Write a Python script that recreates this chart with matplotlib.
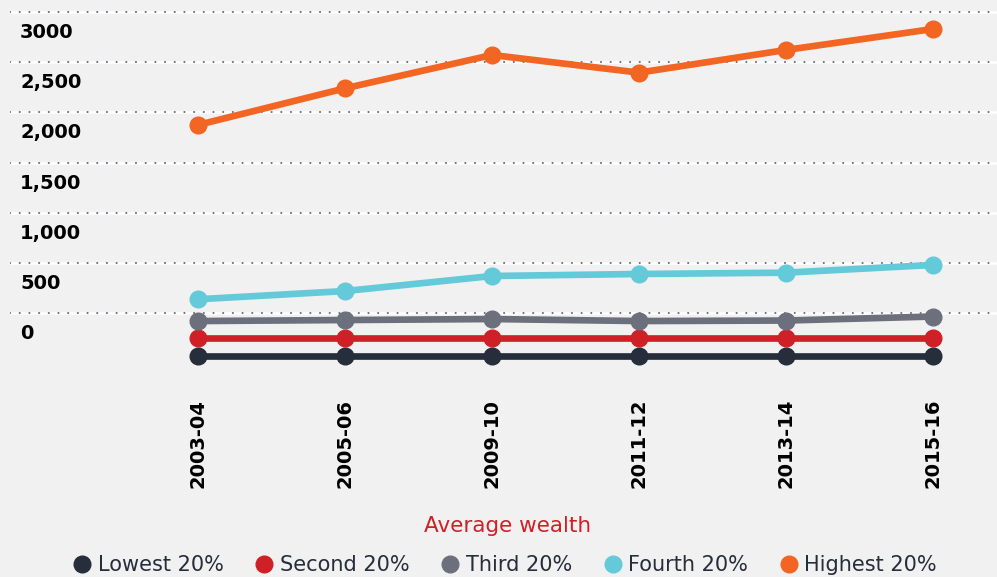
import matplotlib
matplotlib.use("Agg")
import matplotlib.pyplot as plt
import matplotlib.transforms as mtransforms
from matplotlib.lines import Line2D

# данные
years = ["2003-04", "2005-06", "2009-10", "2011-12", "2013-14", "2015-16"]
lowest = [-430, -430, -430, -430, -430, -430]
second = [-245, -245, -245, -245, -245, -245]
third = [-80, -70, -60, -80, -75, -35]
fourth = [137, 219, 369, 389, 402, 479]
highest = [1875, 2240, 2572, 2396, 2622, 2831]

series_names = ["Lowest 20%", "Second 20%", "Third 20%", "Fourth 20%", "Highest 20%"]
series_vals = [lowest, second, third, fourth, highest]
colors = ["#262d3b", "#d02027", "#6c707c", "#64cad9", "#f26522"]

yticks = [0, 500, 1000, 1500, 2000, 2500, 3000]
ytick_labels = ["0", "500", "1,000", "1,500", "2,000", "2,500", "3000"]

bg = "#f1f1f1"
plt.rcParams['font.family'] = ['DejaVu Sans']

fig = plt.figure(figsize=(9.97, 5.77), dpi=100, facecolor=bg)
ax = fig.add_axes([10 / 997, 1 - 370 / 577, 987 / 997, 370 / 577])
ax.set_facecolor(bg)

x = list(range(len(years)))

# сетка: белая линия + серые точки
for t in yticks:
    ax.axhline(t, color="white", lw=1.8, zorder=1)
    ax.axhline(t, color="#6c707c", lw=1.5, linestyle=(0, (0.05, 4.6)),
               dash_capstyle="round", zorder=2)

for vals, c in zip(series_vals, colors):
    ax.plot(x, vals, color=c, lw=4.8, marker="o", markersize=12,
            solid_capstyle="round", zorder=3)

ax.set_xlim(-1.28, 5.435)
ax.set_ylim(-568, 3120)

for s in ax.spines.values():
    s.set_visible(False)

ax.set_yticks([])
ax.set_xticks(x)
ax.set_xticklabels(years, rotation=90, va="bottom", ha="center",
                   fontsize=14, fontweight="bold", color="black")
ax.tick_params(axis="x", length=0, pad=85)

trans = mtransforms.blended_transform_factory(ax.transAxes, ax.transData)
trans = mtransforms.offset_copy(trans, fig, x=0, y=-20.5, units="dots")
for t, lab in zip(yticks, ytick_labels):
    ax.text(10 / 987, t, lab, transform=trans, ha="left", va="center",
            fontsize=14, fontweight="bold", color="black")

fig.text(508 / 997, 1 - 526 / 577, "Average wealth", color="#d02027",
         fontsize=15.5, ha="center", va="center")

handles = [Line2D([], [], linestyle="none", marker="o", markersize=12,
                  color=c) for c in colors]
fig.legend(handles, series_names, loc="center", ncol=5, frameon=False,
           bbox_to_anchor=(506 / 997, 1 - 565 / 577), fontsize=15,
           handlelength=0.7, handletextpad=0.4, columnspacing=1.6,
           labelcolor="#262d3b")

fig.savefig("out.png", dpi=100, facecolor=bg)
